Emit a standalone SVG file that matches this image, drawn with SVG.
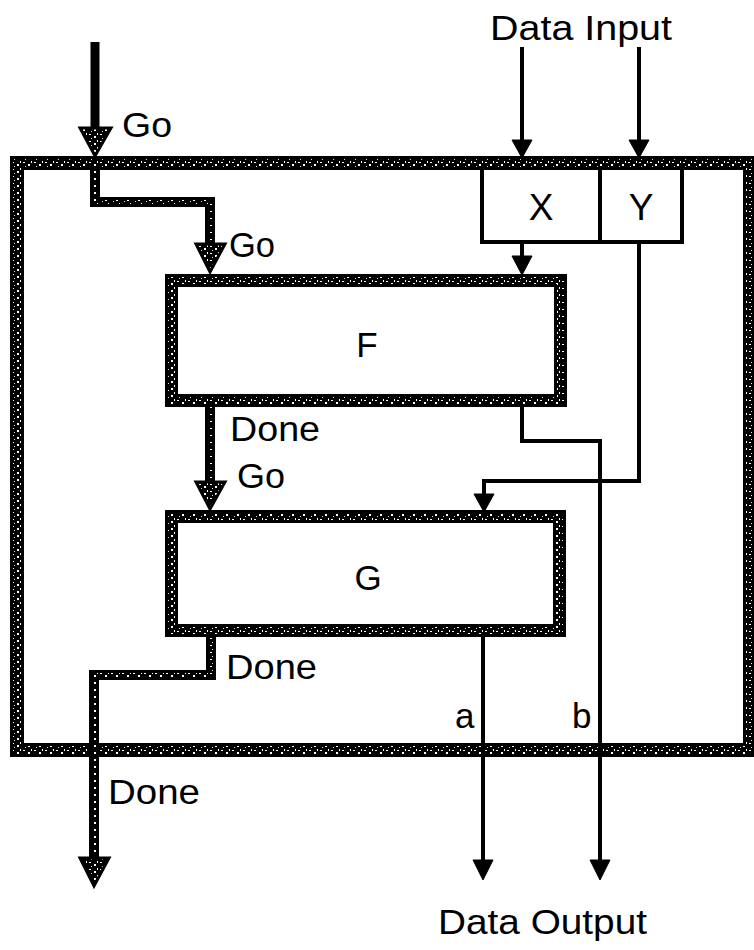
<svg xmlns="http://www.w3.org/2000/svg" width="754" height="950" viewBox="0 0 754 950">
<defs>
<pattern id="spk" width="11" height="7" patternUnits="userSpaceOnUse">
<rect width="11" height="7" fill="#000"/>
<rect x="1" y="1" width="2" height="1" fill="#fff"/>
<rect x="6" y="3" width="2" height="2" fill="#fff"/>
<rect x="3" y="5" width="1" height="1" fill="#ddd"/>
<rect x="9" y="0" width="1" height="2" fill="#fff"/>
</pattern>
<style>
.band{fill:none;stroke:#000;stroke-linejoin:miter}
.bandIn{fill:none;stroke:url(#spk)}
.thin{fill:none;stroke:#000;stroke-width:4}
.head{fill:#000;stroke:#000;stroke-width:1}
.bhead{fill:url(#spk);stroke:#000;stroke-width:3;stroke-linejoin:miter}
.lbl{font-family:"Liberation Sans",Arial,sans-serif;font-size:35px;fill:#000}
.mid{text-anchor:middle}
</style>
</defs>
<rect width="754" height="950" fill="#fff"/>

<g id="node-XY">
<rect x="482" y="165" width="200" height="77" fill="#fff" stroke="#000" stroke-width="4"/>
<line x1="600" y1="165" x2="600" y2="242" stroke="#000" stroke-width="4"/>
<text class="lbl mid" x="541" y="220" style="font-size:37px">X</text>
<text class="lbl mid" x="641" y="220" style="font-size:37px">Y</text>
</g>

<g id="frame">
<rect class="band" x="17" y="163" width="733" height="587" stroke-width="14"/>
<rect class="bandIn" x="17" y="163" width="733" height="587" stroke-width="8"/>
</g>

<g id="node-F">
<rect x="171.5" y="280.5" width="389" height="120" fill="#fff"/>
<rect class="band" x="171.5" y="280.5" width="389" height="120" stroke-width="13"/>
<rect class="bandIn" x="171.5" y="280.5" width="389" height="120" stroke-width="7"/>
<text class="lbl mid" x="367" y="357">F</text>
</g>

<g id="node-G">
<rect x="171.5" y="516.5" width="388" height="114" fill="#fff"/>
<rect class="band" x="171.5" y="516.5" width="388" height="114" stroke-width="13"/>
<rect class="bandIn" x="171.5" y="516.5" width="388" height="114" stroke-width="7"/>
<text class="lbl mid" x="368" y="590">G</text>
</g>

<g id="connectors">
<line x1="95" y1="42" x2="95" y2="130" stroke="#000" stroke-width="9"/>
<path class="bhead" d="M80,128 L111,128 L95,156 Z"/>

<path class="band" d="M95,163 V202 H210 V246" stroke-width="10"/>
<path class="bandIn" d="M95,163 V202 H210 V246" stroke-width="4"/>
<path class="bhead" d="M196,244 L225,244 L210,272 Z"/>

<path class="band" d="M210,407 V484" stroke-width="10"/>
<path class="bandIn" d="M210,407 V484" stroke-width="4"/>
<path class="bhead" d="M196,482 L225,482 L210,509 Z"/>

<path class="band" d="M211,637 V675 H94 V860" stroke-width="10"/>
<path class="bandIn" d="M211,637 V675 H94 V860" stroke-width="4"/>
<path class="bhead" d="M80,858 L109,858 L94,886 Z"/>

<path class="thin" d="M522,47 V142"/>
<path class="head" d="M512,140 L532,140 L522,158 Z"/>
<path class="thin" d="M639,47 V142"/>
<path class="head" d="M629,140 L649,140 L639,158 Z"/>
<path class="thin" d="M522,242 V258"/>
<path class="head" d="M512,256 L532,256 L522,275 Z"/>
<path class="thin" d="M639,242 V481 H484 V496"/>
<path class="head" d="M474,494 L494,494 L484,512 Z"/>
<path class="thin" d="M522,407 V441 H600 V862"/>
<path class="head" d="M590,860 L610,860 L600,880 Z"/>
<path class="thin" d="M483,637 V862"/>
<path class="head" d="M473,860 L493,860 L483,880 Z"/>
</g>

<g id="labels">
<text class="lbl" x="490" y="40" textLength="182" lengthAdjust="spacingAndGlyphs">Data Input</text>
<text class="lbl" x="122" y="137" textLength="50" lengthAdjust="spacingAndGlyphs">Go</text>
<text class="lbl" x="229" y="257" textLength="46" lengthAdjust="spacingAndGlyphs">Go</text>
<text class="lbl" x="230" y="441" textLength="90" lengthAdjust="spacingAndGlyphs">Done</text>
<text class="lbl" x="237" y="488" textLength="48" lengthAdjust="spacingAndGlyphs">Go</text>
<text class="lbl" x="226" y="679" textLength="91" lengthAdjust="spacingAndGlyphs">Done</text>
<text class="lbl" x="455" y="728">a</text>
<text class="lbl" x="572" y="728">b</text>
<text class="lbl" x="108" y="804" textLength="92" lengthAdjust="spacingAndGlyphs">Done</text>
<text class="lbl" x="438" y="934" textLength="209" lengthAdjust="spacingAndGlyphs">Data Output</text>
</g>
</svg>
